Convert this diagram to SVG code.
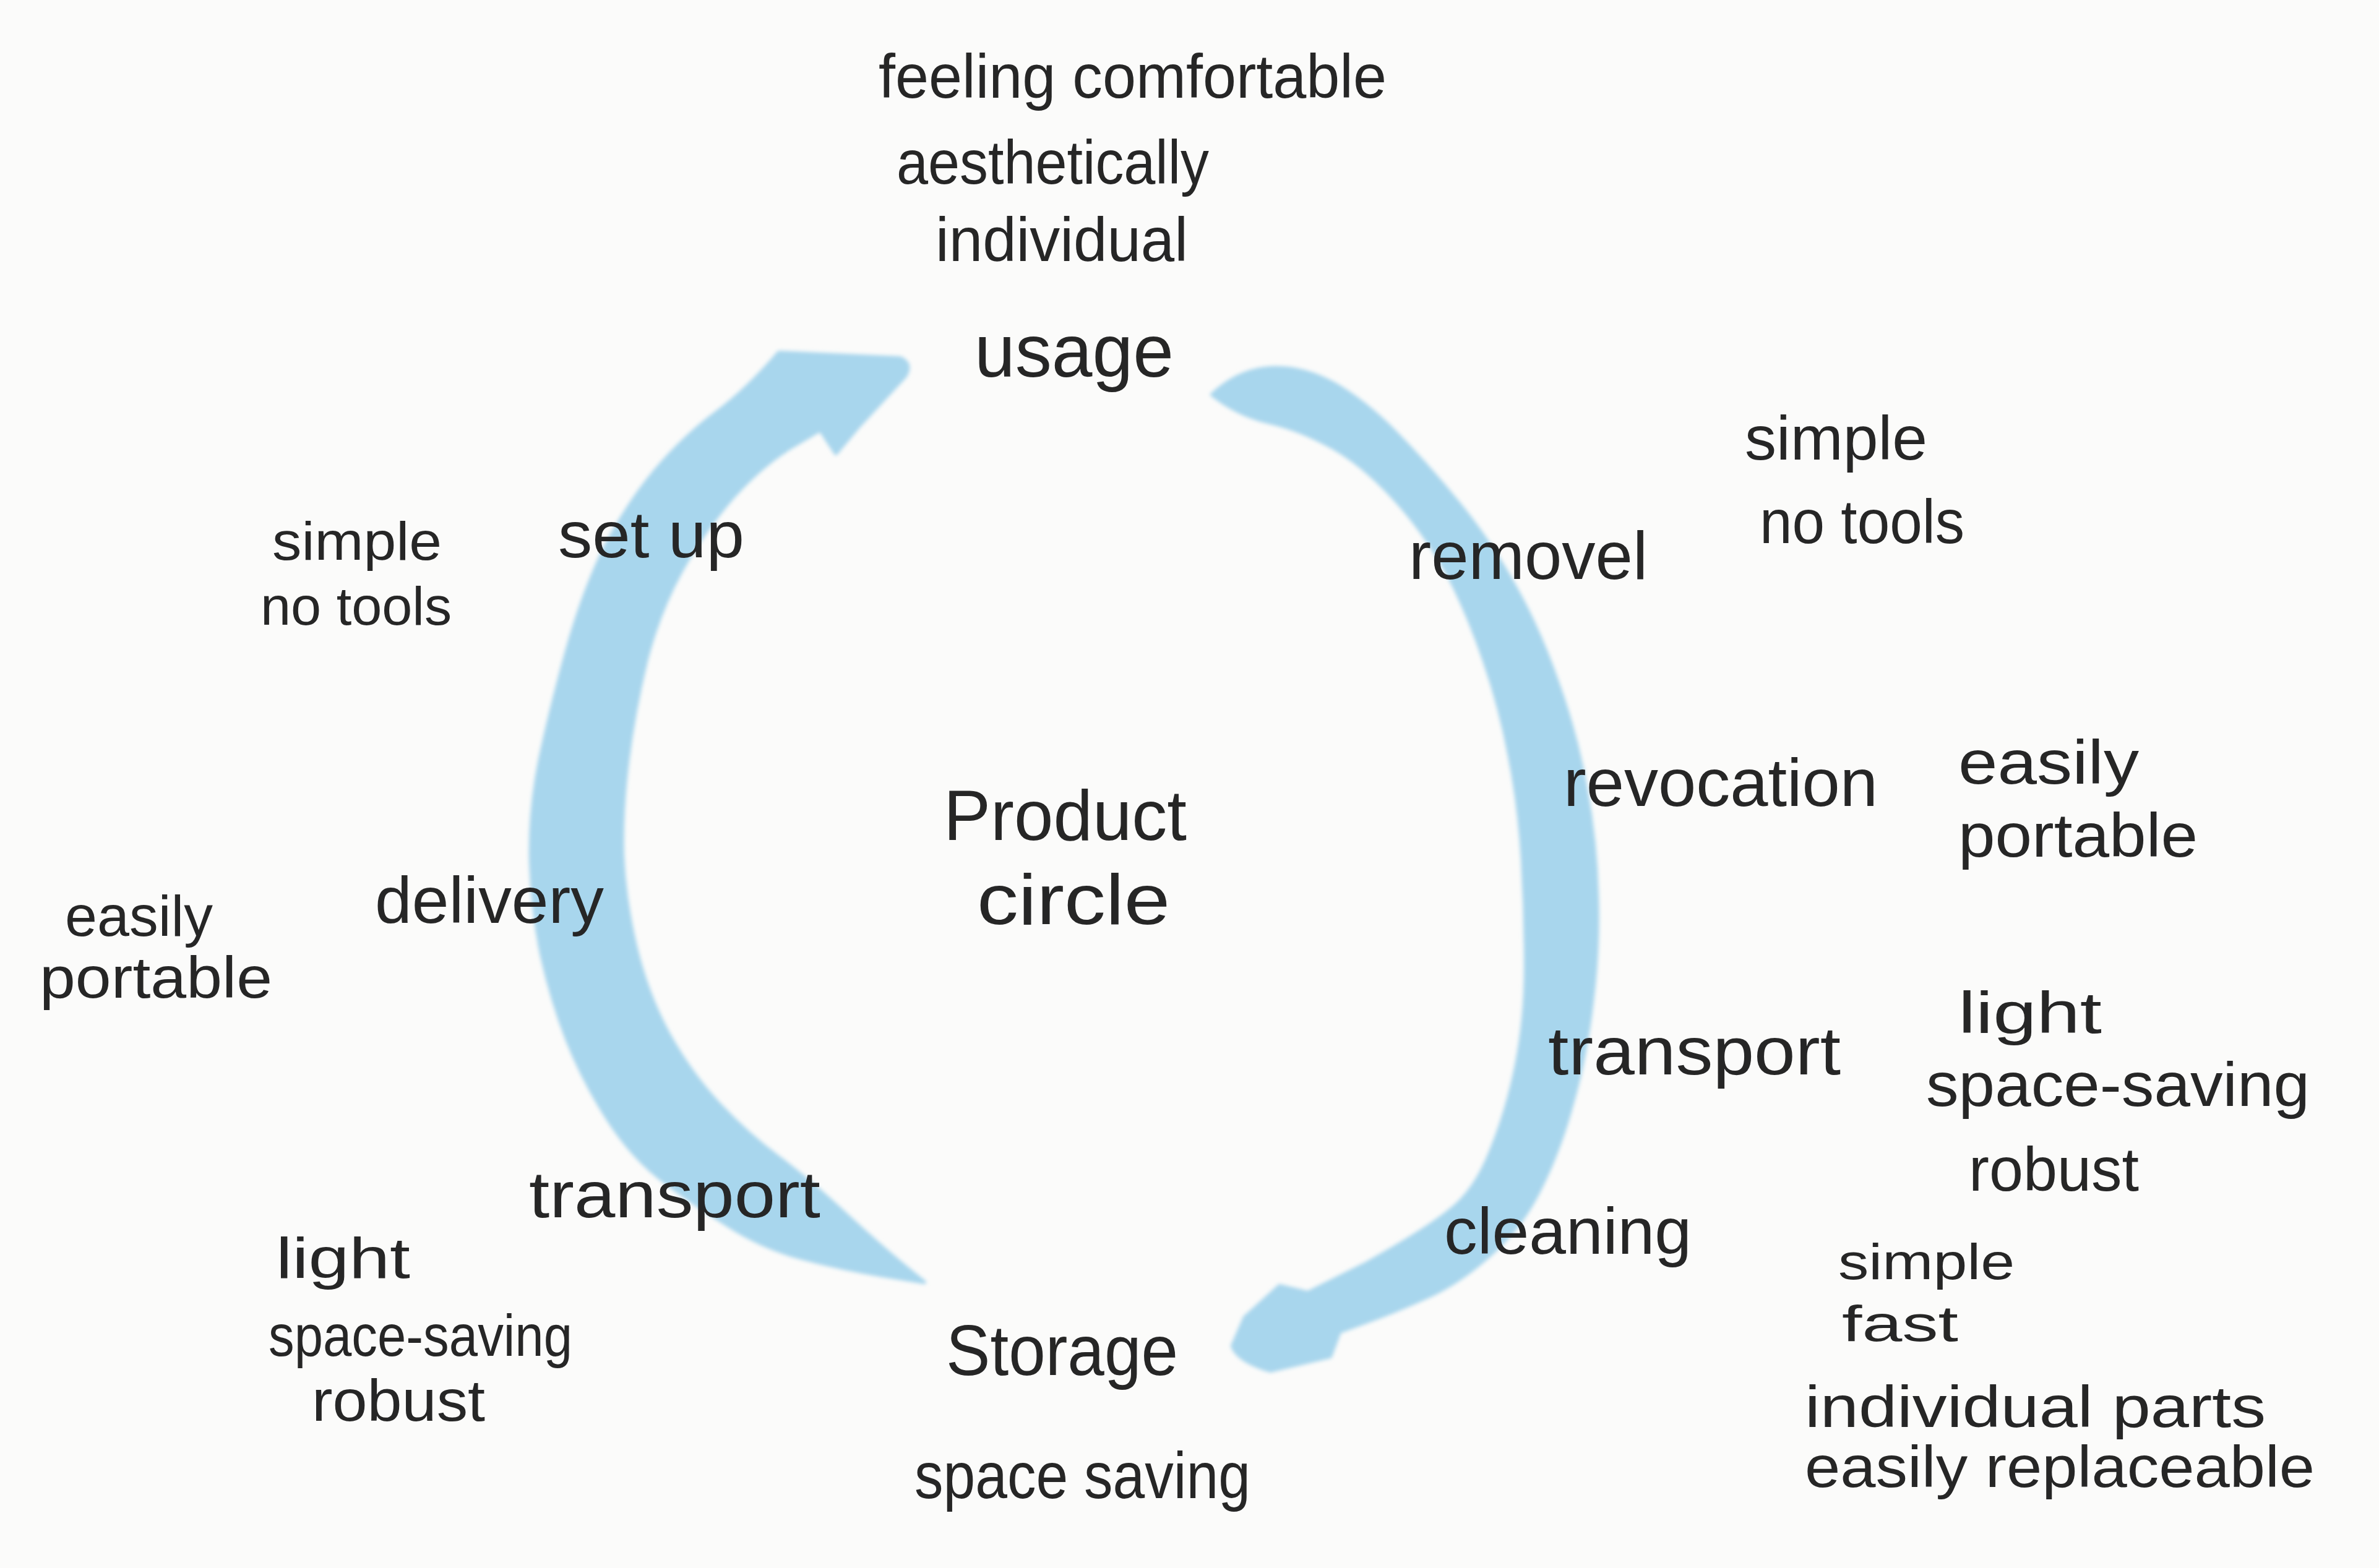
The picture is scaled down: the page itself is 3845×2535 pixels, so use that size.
<svg xmlns="http://www.w3.org/2000/svg" width="3845" height="2535" viewBox="0 0 3845 2535">
<defs>
<style>
.t{font-family:"Liberation Sans","DejaVu Sans",sans-serif;fill:#262626;}
.arc{fill:#a8d6ed;stroke:#a8d6ed;stroke-width:6;stroke-linejoin:round;}
</style>
<filter id="soft" x="-5%" y="-5%" width="110%" height="110%"><feGaussianBlur stdDeviation="3"/></filter>
</defs>
<rect width="3845" height="2535" fill="#fbfbfa"/>
<g id="connectors" filter="url(#soft)">
<path id="arc-left" class="arc" d="M1259,570 Q1208,630 1157,668 Q1106,706 1060,760 Q1014,815 978,885 Q943,956 916,1053 Q889,1151 872,1232 Q856,1313 858,1394 Q861,1476 876,1546 Q892,1617 917,1682 Q943,1747 981,1807 Q1019,1867 1067,1905 Q1116,1943 1175,1980 Q1234,2018 1297,2034 Q1361,2051 1427,2062 L1494,2073 Q1438,2029 1374,1970 Q1310,1910 1259,1872 Q1208,1834 1162,1785 Q1116,1736 1080,1671 Q1045,1606 1027,1530 Q1009,1454 1006,1383 Q1004,1313 1014,1232 Q1024,1151 1044,1069 Q1065,988 1101,923 Q1137,858 1185,803 Q1234,749 1280,722 L1326,695 L1351,733 L1387,690 L1463,608 Q1475,588 1455,579 L1259,570 Z"/>
<path id="arc-right" class="arc" d="M1959,638 Q2002,598 2053,595 Q2104,592 2155,620 Q2206,649 2257,701 Q2308,753 2359,816 Q2410,879 2448,948 Q2487,1017 2517,1103 Q2548,1189 2563,1275 Q2579,1361 2581,1447 Q2584,1533 2573,1619 Q2563,1706 2542,1780 Q2522,1855 2491,1918 Q2461,1981 2410,2027 Q2359,2073 2308,2096 Q2257,2119 2211,2136 L2165,2153 L2150,2193 L2053,2216 Q2000,2200 1992,2176 L2012,2130 L2068,2079 L2114,2090 L2206,2044 Q2308,1987 2346,1955 Q2385,1924 2410,1860 Q2436,1797 2451,1722 Q2466,1648 2466,1562 Q2466,1476 2461,1390 Q2456,1304 2440,1223 Q2425,1143 2399,1068 Q2374,994 2341,930 Q2308,867 2257,810 Q2206,753 2155,724 Q2104,695 2053,683 Q2002,672 1959,638 Z"/>
</g>
<g id="node-usage">
<text class="t" x="1420" y="158" font-size="100" textLength="821" lengthAdjust="spacingAndGlyphs">feeling comfortable</text>
<text class="t" x="1449" y="297" font-size="100" textLength="505" lengthAdjust="spacingAndGlyphs">aesthetically</text>
<text class="t" x="1512" y="422" font-size="100" textLength="408" lengthAdjust="spacingAndGlyphs">individual</text>
<text class="t" x="1575" y="609" font-size="120" textLength="322" lengthAdjust="spacingAndGlyphs">usage</text>
</g>
<g id="node-removel">
<text class="t" x="2277" y="936" font-size="110" textLength="386" lengthAdjust="spacingAndGlyphs">removel</text>
<text class="t" x="2820" y="743" font-size="100" textLength="295" lengthAdjust="spacingAndGlyphs">simple</text>
<text class="t" x="2844" y="878" font-size="100" textLength="331" lengthAdjust="spacingAndGlyphs">no tools</text>
</g>
<g id="node-setup">
<text class="t" x="902" y="901" font-size="105" textLength="301" lengthAdjust="spacingAndGlyphs">set up</text>
<text class="t" x="440" y="905" font-size="88" textLength="274" lengthAdjust="spacingAndGlyphs">simple</text>
<text class="t" x="421" y="1010" font-size="88" textLength="309" lengthAdjust="spacingAndGlyphs">no tools</text>
</g>
<g id="node-center">
<text class="t" x="1525" y="1358" font-size="115" textLength="393" lengthAdjust="spacingAndGlyphs">Product</text>
<text class="t" x="1579" y="1494" font-size="115" textLength="312" lengthAdjust="spacingAndGlyphs">circle</text>
</g>
<g id="node-revocation">
<text class="t" x="2527" y="1303" font-size="110" textLength="508" lengthAdjust="spacingAndGlyphs">revocation</text>
<text class="t" x="3165" y="1267" font-size="100" textLength="292" lengthAdjust="spacingAndGlyphs">easily</text>
<text class="t" x="3165" y="1385" font-size="100" textLength="387" lengthAdjust="spacingAndGlyphs">portable</text>
</g>
<g id="node-transport-right">
<text class="t" x="2502" y="1737" font-size="110" textLength="473" lengthAdjust="spacingAndGlyphs">transport</text>
<text class="t" x="3165" y="1670" font-size="95" textLength="232" lengthAdjust="spacingAndGlyphs">light</text>
<text class="t" x="3113" y="1788" font-size="100" textLength="620" lengthAdjust="spacingAndGlyphs">space-saving</text>
<text class="t" x="3182" y="1925" font-size="100" textLength="275" lengthAdjust="spacingAndGlyphs">robust</text>
</g>
<g id="node-delivery">
<text class="t" x="606" y="1492" font-size="105" textLength="370" lengthAdjust="spacingAndGlyphs">delivery</text>
<text class="t" x="105" y="1513" font-size="92" textLength="239" lengthAdjust="spacingAndGlyphs">easily</text>
<text class="t" x="64" y="1613" font-size="95" textLength="376" lengthAdjust="spacingAndGlyphs">portable</text>
</g>
<g id="node-transport-left">
<text class="t" x="855" y="1968" font-size="105" textLength="471" lengthAdjust="spacingAndGlyphs">transport</text>
<text class="t" x="446" y="2066" font-size="92" textLength="217" lengthAdjust="spacingAndGlyphs">light</text>
<text class="t" x="434" y="2192" font-size="95" textLength="491" lengthAdjust="spacingAndGlyphs">space-saving</text>
<text class="t" x="504" y="2297" font-size="95" textLength="280" lengthAdjust="spacingAndGlyphs">robust</text>
</g>
<g id="node-cleaning">
<text class="t" x="2334" y="2027" font-size="105" textLength="400" lengthAdjust="spacingAndGlyphs">cleaning</text>
<text class="t" x="2971" y="2068" font-size="82" textLength="285" lengthAdjust="spacingAndGlyphs">simple</text>
<text class="t" x="2977" y="2168" font-size="82" textLength="188" lengthAdjust="spacingAndGlyphs">fast</text>
<text class="t" x="2917" y="2307" font-size="95" textLength="745" lengthAdjust="spacingAndGlyphs">individual parts</text>
<text class="t" x="2917" y="2404" font-size="95" textLength="824" lengthAdjust="spacingAndGlyphs">easily replaceable</text>
</g>
<g id="node-storage">
<text class="t" x="1529" y="2223" font-size="115" textLength="375" lengthAdjust="spacingAndGlyphs">Storage</text>
<text class="t" x="1478" y="2422" font-size="105" textLength="543" lengthAdjust="spacingAndGlyphs">space saving</text>
</g>
</svg>
